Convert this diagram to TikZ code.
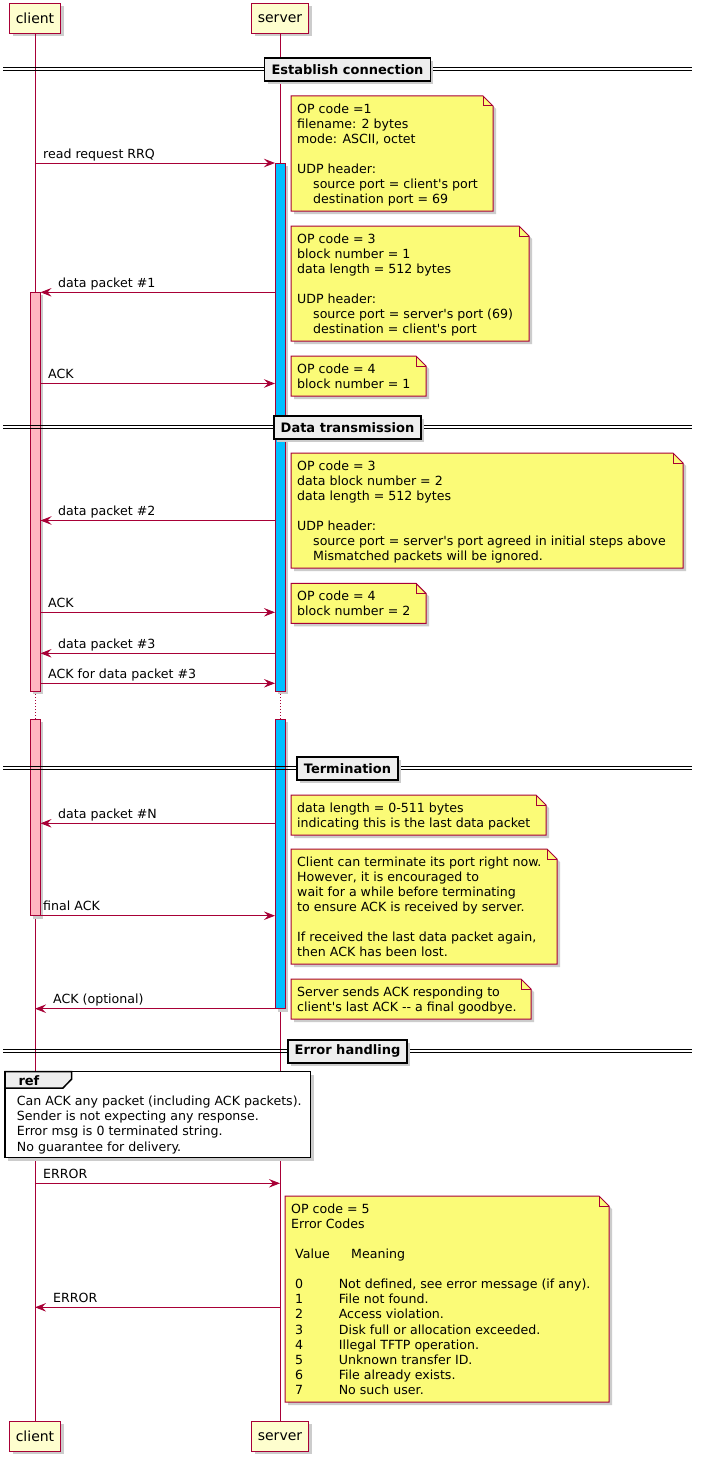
\documentclass[tikz,border=0pt]{standalone}
\usepackage{fontspec}
\setmainfont{DejaVu Sans}
\usetikzlibrary{arrows.meta}
\definecolor{pred}{HTML}{A80036}
\definecolor{partfill}{HTML}{FEFECE}
\definecolor{notec}{HTML}{FBFB77}
\definecolor{cbarc}{HTML}{FFB6C1}
\definecolor{sbarc}{HTML}{00BFFF}
\definecolor{divc}{HTML}{EEEEEE}
\newcommand\tftpnote[6]{%
  \path[nbox] (#2,#3) -- ({#4-10},#3) -- (#4,{#3+10}) -- (#4,#5) -- (#2,#5) -- cycle;
  \draw[pred, line width=1pt] ({#4-10},#3) -- ({#4-10},{#3+10}) -- (#4,{#3+10});
  \node[ntext] (#1) at ({#2+6},{#3+6.5}) {\rule{0pt}{10.5pt}#6};
}
\newcommand\ind{\hspace*{16pt}}
\newcommand\ecrow[2]{\makebox[47.6pt][l]{\hspace*{4pt}#1}#2}
\newcommand\tq{\textquotesingle}
\tikzset{
 life/.style={draw=pred, line width=1pt},
 msg/.style={draw=pred, line width=1pt, -{Stealth[length=11pt,width=8.5pt,inset=4pt]}},
 shad/.style={preaction={fill=black!20, draw=none, transform canvas={xshift=3pt,yshift=-3pt}}},
 part/.style={shad, draw=pred, fill=partfill, line width=1.5pt, minimum height=30pt, inner sep=0pt, font=\fontsize{14}{16}\selectfont},
 cbar/.style={shad, draw=pred, fill=cbarc, line width=1pt},
 sbar/.style={shad, draw=pred, fill=sbarc, line width=1pt},
 lbl/.style={anchor=base west, inner sep=0pt, font=\fontsize{12.6}{15.1}\selectfont},
 ntext/.style={anchor=north west, inner sep=0pt, align=left, font=\fontsize{12.6}{15.1}\selectfont},
 nbox/.style={shad, draw=pred, fill=notec, line width=1pt},
 dline/.style={draw=black, line width=1pt},
 divbox/.style={shad, draw=black, fill=divc, line width=1.8pt, minimum height=23pt, inner xsep=7pt, inner ysep=0pt, font=\fontsize{13}{15}\selectfont\bfseries},
 refbox/.style={shad, draw=black, fill=white, line width=1.5pt},
 reftab/.style={draw=black, fill=divc, line width=1.5pt},
}
\begin{document}
\begin{tikzpicture}[x=1pt,y=-1pt]
\useasboundingbox (0,0) rectangle (702,1461);
\fill[white] (0,0) rectangle (702,1461);

% participants
\node[part, minimum width=51pt] (cT) at (35,18.3) {client};
\node[part, minimum width=57pt] (sT) at (280,18.3) {server};
\node[part, minimum width=51pt] (cB) at (35,1436.4) {client};
\node[part, minimum width=57pt] (sB) at (280,1436.4) {server};

% lifelines
\coordinate (cd1) at (35,691);
\coordinate (cd2) at (35,719.3);
\coordinate (sd1) at (280,691);
\coordinate (sd2) at (280,719.3);
\draw[life] (cT.south) -- (cd1);
\draw[life, dotted] (cd1) -- (cd2);
\draw[life] (cd2) -- (cB.north);
\draw[life] (sT.south) -- (sd1);
\draw[life, dotted] (sd1) -- (sd2);
\draw[life] (sd2) -- (sB.north);

% activation bars
\path[sbar] (275,163) rectangle (285,691);
\path[sbar] (275,719.3) rectangle (285,1008.7);
\path[cbar] (30,292.3) rectangle (40,691);
\path[cbar] (30,719.3) rectangle (40,915.7);

% messages
\coordinate (m1a) at (35,163);    \coordinate (m1b) at (275,163);
\coordinate (m2a) at (275,292.3); \coordinate (m2b) at (40.5,292.3);
\coordinate (m3a) at (40,383.5);  \coordinate (m3b) at (275,383.5);
\coordinate (m4a) at (275,520.5); \coordinate (m4b) at (40.5,520.5);
\coordinate (m5a) at (40,612.3);  \coordinate (m5b) at (275,612.3);
\coordinate (m6a) at (275,653.3); \coordinate (m6b) at (40.5,653.3);
\coordinate (m7a) at (40,683.3);  \coordinate (m7b) at (275,683.3);
\coordinate (m8a) at (275,823.3); \coordinate (m8b) at (40.5,823.3);
\coordinate (m9a) at (40,915.7);  \coordinate (m9b) at (275,915.7);
\coordinate (m10a) at (275,1008.7); \coordinate (m10b) at (35,1008.7);
\coordinate (m11a) at (35,1183.3); \coordinate (m11b) at (280,1183.3);
\coordinate (m12a) at (280,1307.3); \coordinate (m12b) at (35,1307.3);
\foreach \i in {1,...,12} {\draw[msg] (m\i a) -- (m\i b);}

\node[lbl] (l1) at (43,158) {read request RRQ};
\node[lbl] (l2) at (58,287.3) {data packet \#1};
\node[lbl] (l3) at (48,378.5) {ACK};
\node[lbl] (l4) at (58,515.5) {data packet \#2};
\node[lbl] (l5) at (48,607.3) {ACK};
\node[lbl] (l6) at (58,648.3) {data packet \#3};
\node[lbl] (l7) at (48,678.3) {ACK for data packet \#3};
\node[lbl] (l8) at (58,818.3) {data packet \#N};
\node[lbl] (l9) at (43,910.7) {final ACK};
\node[lbl] (l10) at (53,1003.7) {ACK (optional)};
\node[lbl] (l11) at (43,1178.3) {ERROR};
\node[lbl] (l12) at (53,1302.3) {ERROR};

% notes
\tftpnote{n1}{291}{96}{493}{211}{OP code =1\\filename: 2 bytes\\mode: ASCII, octet\\\mbox{}\\UDP header:\\\ind source port = client\tq s port\\\ind destination port = 69}
\tftpnote{n2}{291}{226}{529}{341}{OP code = 3\\block number = 1\\data length = 512 bytes\\\mbox{}\\UDP header:\\\ind source port = server\tq s port (69)\\\ind destination = client\tq s port}
\tftpnote{n3}{291}{356}{426}{396}{OP code = 4\\block number = 1}
\tftpnote{n4}{291}{453}{683}{568}{OP code = 3\\data block number = 2\\data length = 512 bytes\\\mbox{}\\UDP header:\\\ind source port = server\tq s port agreed in initial steps above\\\ind Mismatched packets will be ignored.}
\tftpnote{n5}{291}{583.3}{426}{623.3}{OP code = 4\\block number = 2}
\tftpnote{n6}{291}{795}{546}{835}{data length = 0-511 bytes\\indicating this is the last data packet}
\tftpnote{n7}{291}{849}{557}{964}{Client can terminate its port right now.\\However, it is encouraged to\\wait for a while before terminating\\to ensure ACK is received by server.\\\mbox{}\\If received the last data packet again,\\then ACK has been lost.}
\tftpnote{n8}{291}{979}{531}{1019}{Server sends ACK responding to\\client\tq s last ACK -{}- a final goodbye.}
\tftpnote{n9}{285}{1196}{609}{1402}{OP code = 5\\Error Codes\\\mbox{}\\\makebox[60pt][l]{\hspace*{4pt}Value}Meaning\\\mbox{}\\\ecrow{0}{Not defined, see error message (if any).}\\\ecrow{1}{File not found.}\\\ecrow{2}{Access violation.}\\\ecrow{3}{Disk full or allocation exceeded.}\\\ecrow{4}{Illegal TFTP operation.}\\\ecrow{5}{Unknown transfer ID.}\\\ecrow{6}{File already exists.}\\\ecrow{7}{No such user.}}

% dividers
\foreach \yy/\nm/\tx in {69.3/d1/Establish connection, 427.3/d2/Data transmission, 768.3/d3/Termination, 1050.7/d4/Error handling} {
  \draw[dline] (3,\yy-1.5) -- (692,\yy-1.5);
  \draw[dline] (3,\yy+1.5) -- (692,\yy+1.5);
  \node[divbox] (\nm) at (347.5,\yy+0.5) {\tx};
}

% ref
\path[refbox] (5,1071.7) rectangle (310.7,1157.7);
\path[reftab] (5,1071.7) -- (71.7,1071.7) -- (71.7,1079) -- (63,1088) -- (5,1088) -- cycle;
\node[lbl, font=\fontsize{13}{15.1}\selectfont\bfseries] (reft) at (18.3,1085) {ref};
\node[ntext] (refx) at (16.7,1095) {\rule{0pt}{10.5pt}Can ACK any packet (including ACK packets).\\Sender is not expecting any response.\\Error msg is 0 terminated string.\\No guarantee for delivery.};
\end{tikzpicture}
\end{document}
